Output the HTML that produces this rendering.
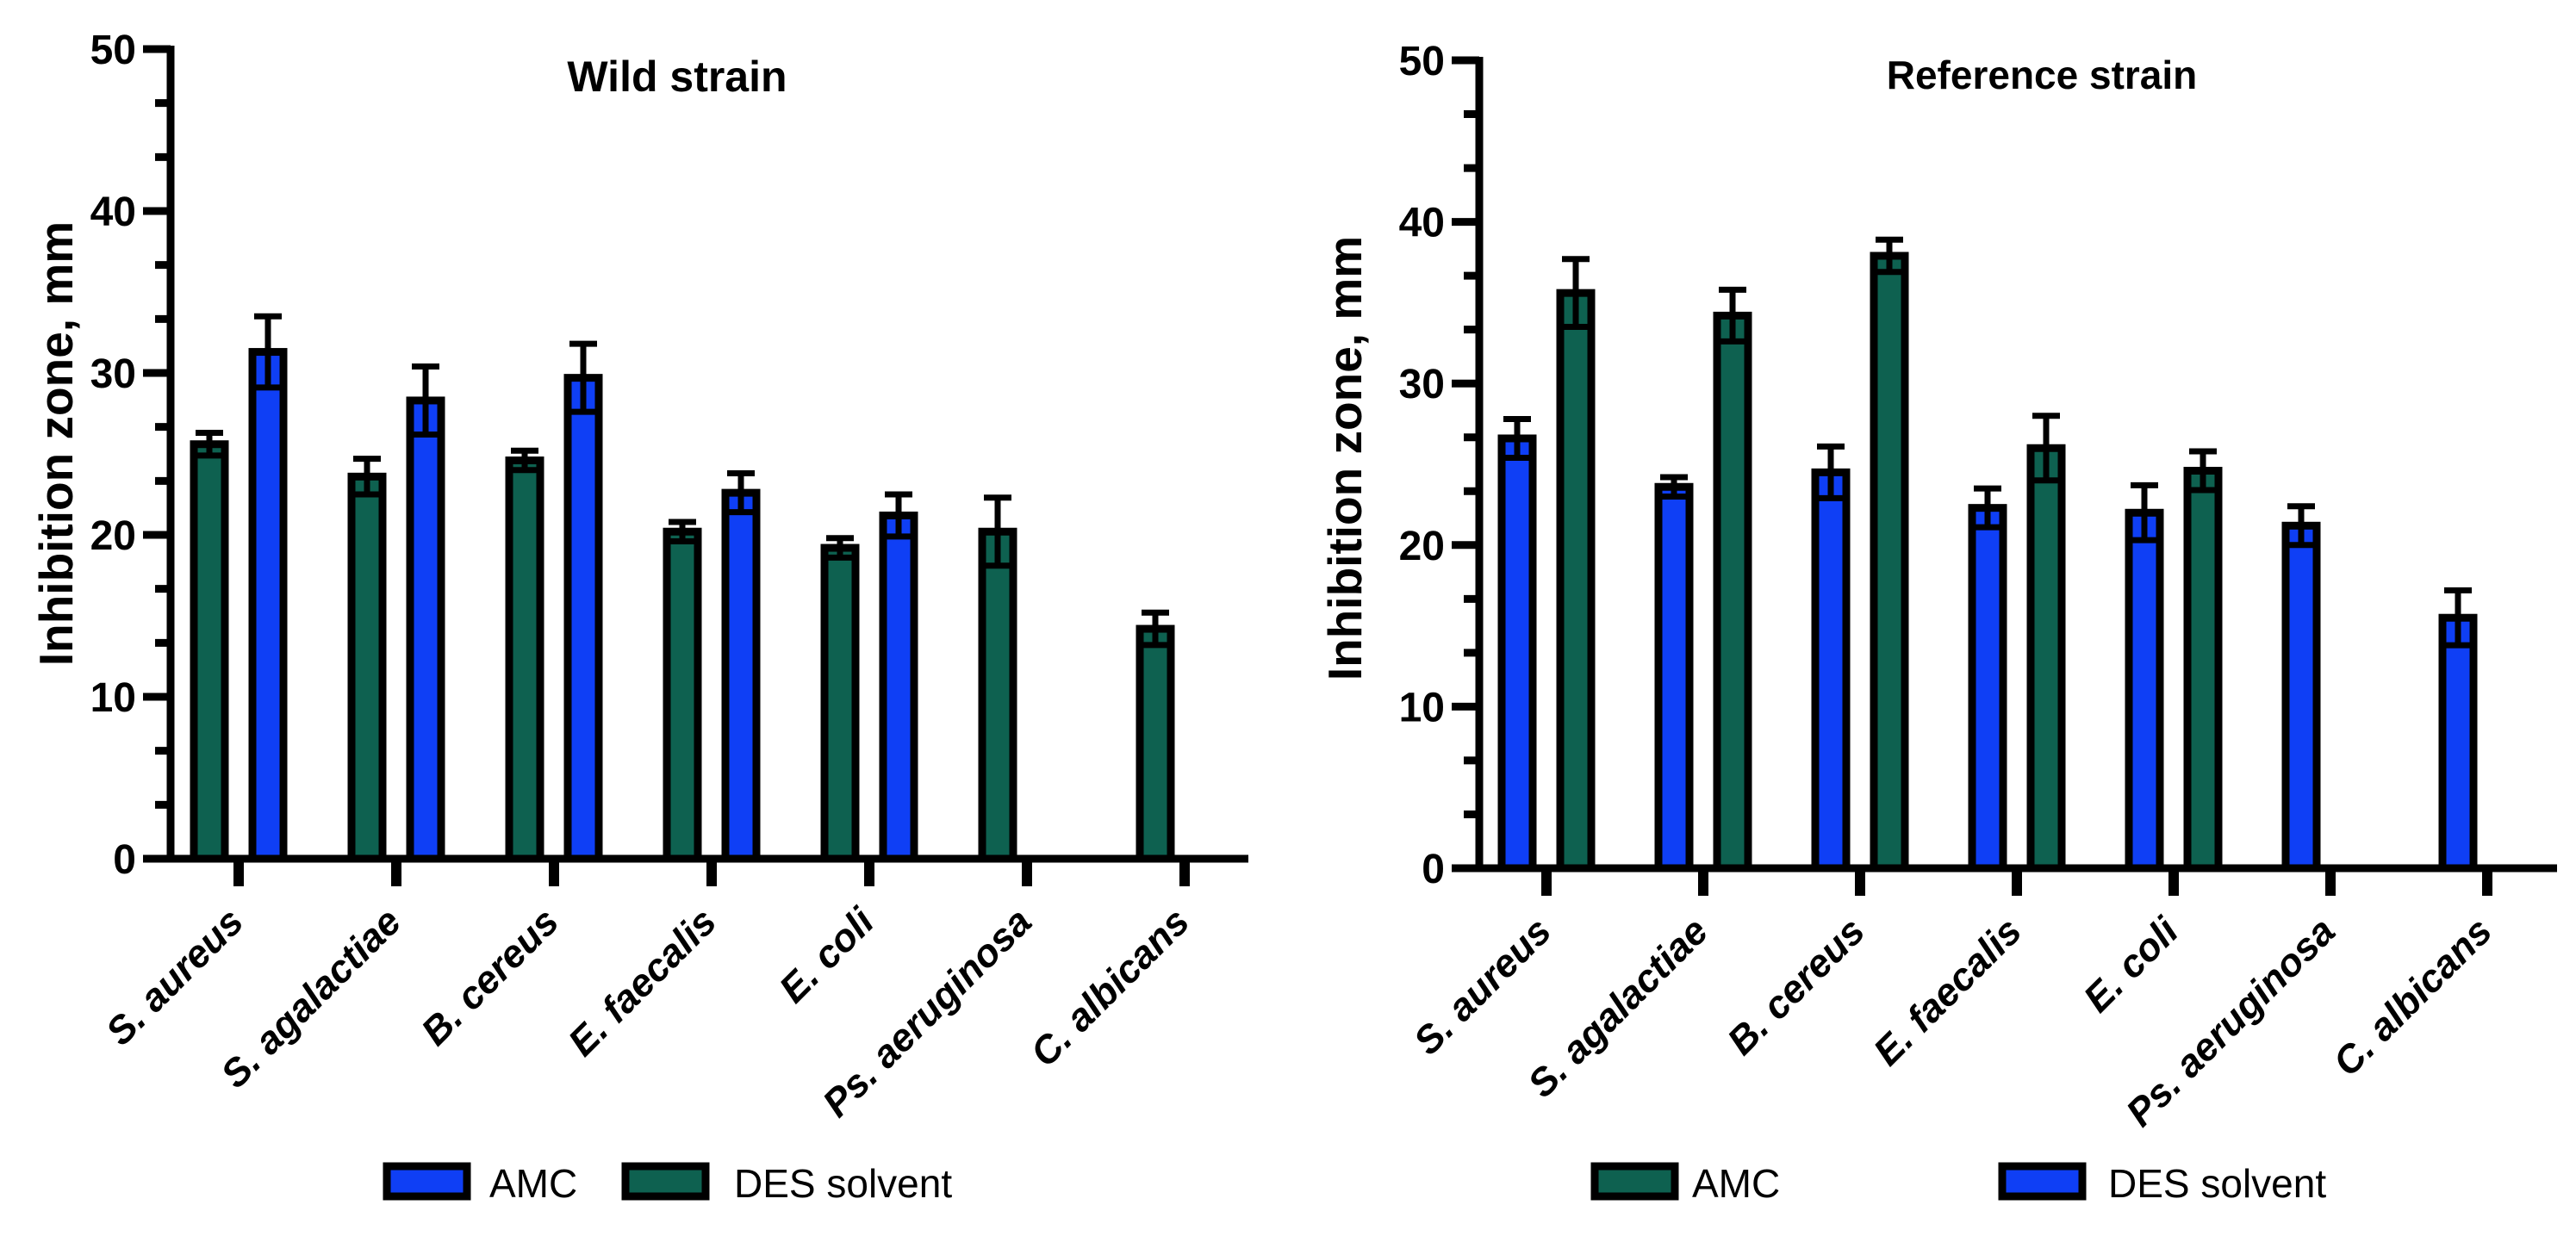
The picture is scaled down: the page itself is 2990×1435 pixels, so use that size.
<!DOCTYPE html>
<html><head><meta charset="utf-8"><style>
html,body{margin:0;padding:0;background:#fff;}
svg{display:block;}
text{font-family:"Liberation Sans",Arial,sans-serif;fill:#000;}
</style></head>
<body>
<svg id="fig" width="2990" height="1435" viewBox="0 0 2990 1435" xmlns="http://www.w3.org/2000/svg"></svg>
<script>
const categories = ["S. aureus","S. agalactiae","B. cereus","E. faecalis","E. coli","Ps. aeruginosa","C. albicans"];
const wildDES = [25.6,23.6,24.6,20.2,19.2,20.2,14.2];
const wildDESsd = [0.7,1.1,0.6,0.6,0.6,2.1,1.0];
const wildAMC = [31.3,28.3,29.7,22.6,21.2,null,null];
const wildAMCsd = [2.2,2.1,2.1,1.2,1.3,null,null];
const refDES = [26.6,23.6,24.5,22.3,22.0,21.2,15.5];
const refDESsd = [1.2,0.6,1.6,1.2,1.7,1.2,1.7];
const refAMC = [35.6,34.2,37.9,26.0,24.6,null,null];
const refAMCsd = [2.1,1.6,1.0,2.0,1.2,null,null];
const yTicks = [0,10,20,30,40,50];

const NS="http://www.w3.org/2000/svg";
const svg=document.getElementById('fig');
const BLUE="#0f3ff5", GREEN="#0e6150";
function mk(tag,attrs,parent){const e=document.createElementNS(NS,tag);for(const k in attrs)e.setAttribute(k,attrs[k]);(parent||svg).appendChild(e);return e;}

function chart(cfg){
  const g=mk('g',{});
  
  
  const y=v=>cfg.y0-(v/50)*(cfg.y0-cfg.y50);
  const x=i=>cfg.x0+i*cfg.step;
  cfg.series.forEach((s,si)=>{
    s.vals.forEach((v,i)=>{
      if(v===null)return;
      const cx=x(i)+s.off;
      const r=mk('rect',{x:cx-18,y:y(v),width:36,height:cfg.y0-y(v),fill:s.color,stroke:'#000','stroke-width':9},g);
      
      
      const sd=s.sd[i];
      const eb=mk('path',{d:`M${cx},${y(v-sd)}V${y(v+sd)}M${cx-16},${y(v+sd)}H${cx+16}M${cx-16},${y(v-sd)}H${cx+16}`,stroke:'#000','stroke-width':7,fill:'none'},g);
      
      
    });
  });
  const ax=mk('path',{d:`M${cfg.ax},${cfg.y50-4}V${cfg.y0}H${cfg.xEnd}`,stroke:'#000','stroke-width':9,fill:'none'},g);
  
  
  for(let k=0;k<=15;k++){
    const v=k*10/3;const major=k%3===0;
    const t=mk('line',{x1:major?cfg.ax-32:cfg.ax-18,x2:cfg.ax,y1:y(v),y2:y(v),stroke:'#000','stroke-width':9},g);
    
    
  }
  yTicks.forEach(v=>{
    const t=mk('text',{x:cfg.ax-40,y:y(v)+17,'text-anchor':'end','font-size':48,'font-weight':'bold'},g);
    t.textContent=v;
    
    
  });
  categories.forEach((c,i)=>{
    const t=mk('line',{x1:x(i),x2:x(i),y1:cfg.y0,y2:cfg.y0+32,stroke:'#000','stroke-width':12},g);
    
    
    const lx=x(i)+8, ly=cfg.y0+76;
    const l=mk('text',{x:lx,y:ly,'text-anchor':'end','font-size':45,'font-weight':'bold','font-style':'italic',transform:`rotate(-45 ${lx} ${ly})`},g);
    l.textContent=c;
    
    
  });
  const yt=mk('text',{x:0,y:0,'text-anchor':'middle','font-size':55,'font-weight':'bold',transform:`translate(${cfg.ytx} ${cfg.yty}) rotate(-90)`},g);
  yt.textContent="Inhibition zone, mm";
  
  
  const tt=mk('text',{x:cfg.tx,y:cfg.ty,'text-anchor':'middle','font-size':cfg.tfs,'font-weight':'bold'},g);
  tt.textContent=cfg.title;
  
  
  cfg.legend.forEach(L=>{
    const lg=mk('g',{},g);
    
    
    mk('rect',{x:L.x+5,y:1354,width:93,height:35,fill:L.color,stroke:'#000','stroke-width':9},lg);
    const lt=mk('text',{x:L.tx,y:1390,'font-size':46},lg);
    lt.textContent=L.label;
  });
}

chart({name:'wild-strain-chart',title:'Wild strain',tx:786,ty:106,tfs:50,ax:198,y0:997,y50:57,x0:277,step:183,xEnd:1449,ytx:84,yty:515,
  series:[{key:'des',vals:wildDES,sd:wildDESsd,color:GREEN,off:-34},{key:'amc',vals:wildAMC,sd:wildAMCsd,color:BLUE,off:34}],
  legend:[{x:444,tx:568,color:BLUE,label:'AMC'},{x:721,tx:852,color:GREEN,label:'DES solvent'}]});
chart({name:'reference-strain-chart',title:'Reference strain',tx:2370,ty:103,tfs:46,ax:1717,y0:1008,y50:70,x0:1795,step:182,xEnd:2968,ytx:1580,yty:532,
  series:[{key:'des',vals:refDES,sd:refDESsd,color:BLUE,off:-34},{key:'amc',vals:refAMC,sd:refAMCsd,color:GREEN,off:34}],
  legend:[{x:1846,tx:1964,color:GREEN,label:'AMC'},{x:2319,tx:2447,color:BLUE,label:'DES solvent'}]});
</script>
</body></html>
